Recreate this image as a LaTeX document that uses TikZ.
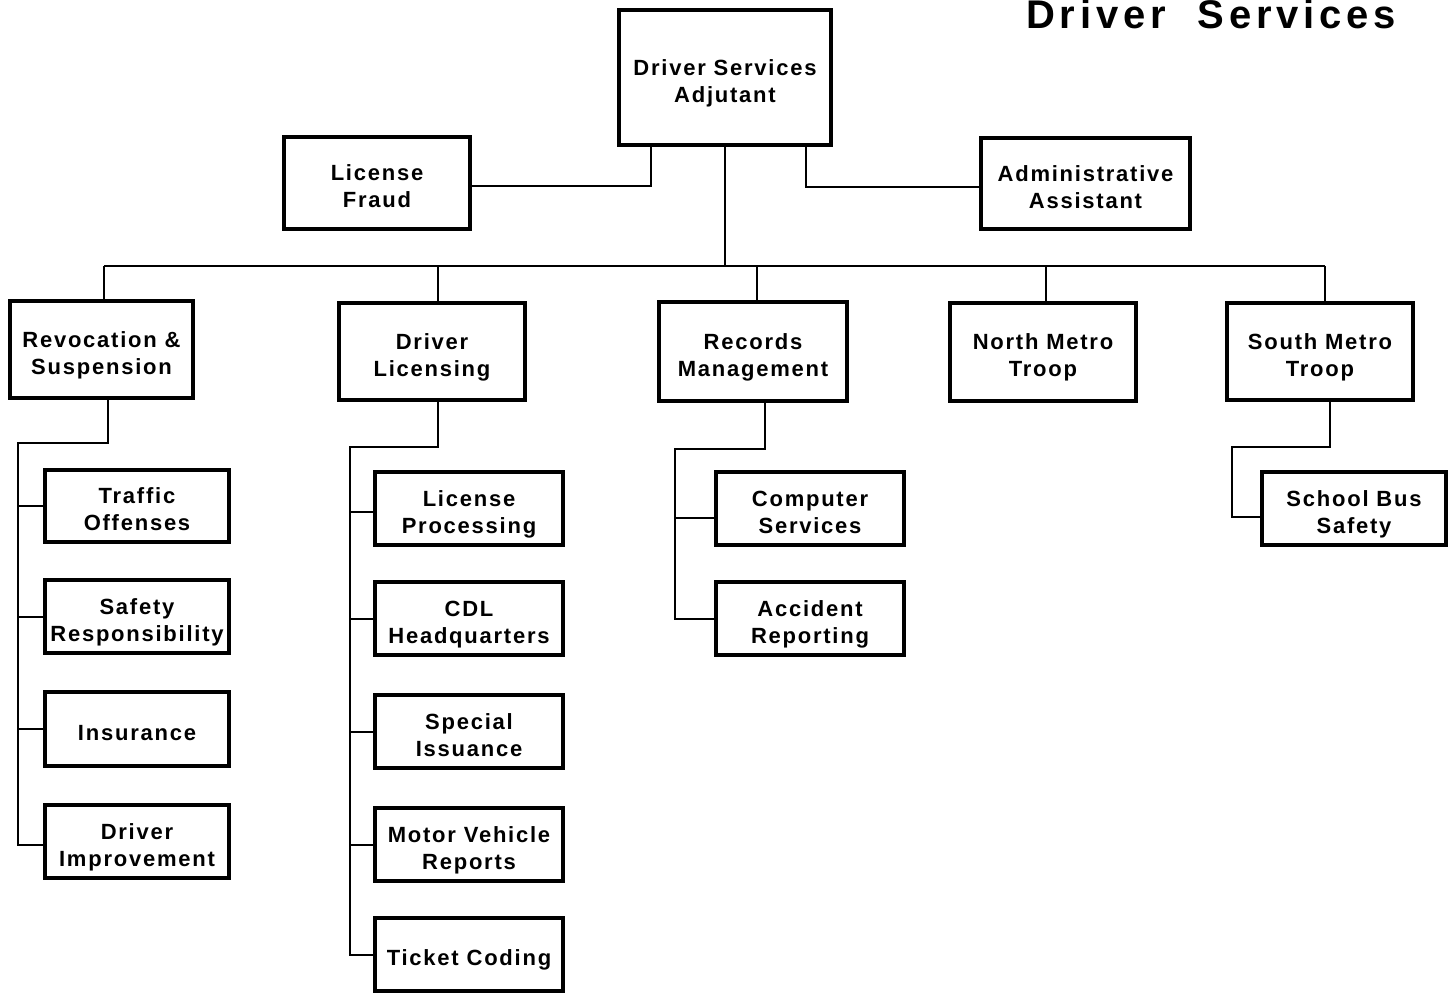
\documentclass[tikz,border=0pt]{standalone}
\usepackage{fontspec}
\newfontfamily\boxfont{Liberation Sans}[LetterSpace=8]
\newfontfamily\titlefont{Liberation Sans}[LetterSpace=12]
\begin{document}
\begin{tikzpicture}[x=0.5pt,y=-0.5pt,
  box/.style={draw,line width=2pt,align=center,inner sep=0pt,
    font=\boxfont\bfseries\fontsize{11pt}{13.5pt}\selectfont},
  conn/.style={line width=1pt}]
\useasboundingbox (0,0) rectangle (1450,995);
\newcommand\bx[6]{\node[box,minimum width={(#4-#2-4)*0.5pt},minimum height={(#5-#3-4)*0.5pt}] (#1) at ({(#2+#4)/2},{(#3+#5)/2}) {\raisebox{-3pt}[\height][\depth]{\begin{tabular}{@{}c@{}}#6\end{tabular}}};}
\node[font=\titlefont\bfseries\fontsize{20pt}{22pt}\selectfont,anchor=base,inner sep=0pt] (title) at (1211,29) {Driver\ \ Services};
\bx{top}{617}{8}{833}{147}{Driver Services\\Adjutant}
\bx{fraud}{282}{135}{472}{231}{License\\Fraud}
\bx{admin}{979}{136}{1192}{231}{Administrative\\Assistant}
\bx{rev}{8}{299}{195}{400}{Revocation \&\\Suspension}
\bx{lic}{337}{301}{527}{402}{Driver\\Licensing}
\bx{rec}{657}{300}{849}{403}{Records\\Management}
\bx{north}{948}{301}{1138}{403}{North Metro\\Troop}
\bx{south}{1225}{301}{1415}{402}{South Metro\\Troop}
\bx{traffic}{43}{468}{231}{544}{Traffic\\Offenses}
\bx{safety}{43}{578}{231}{655}{Safety\\Responsibility}
\bx{ins}{43}{690}{231}{768}{Insurance}
\bx{dimp}{43}{803}{231}{880}{Driver\\Improvement}
\bx{lproc}{373}{470}{565}{547}{License\\Processing}
\bx{cdl}{373}{580}{565}{657}{CDL\\Headquarters}
\bx{spec}{373}{693}{565}{770}{Special\\Issuance}
\bx{mvr}{373}{806}{565}{883}{Motor Vehicle\\Reports}
\bx{ticket}{373}{916}{565}{993}{Ticket Coding}
\bx{comp}{714}{470}{906}{547}{Computer\\Services}
\bx{acc}{714}{580}{906}{657}{Accident\\Reporting}
\bx{bus}{1260}{470}{1448}{547}{School Bus\\Safety}
% top connectors
\draw[conn] ([yshift=-1.5pt]fraud.east) -| (651,0 |- top.south);
\draw[conn] ([yshift=-1.5pt]admin.west) -| (806,0 |- top.south);
\coordinate (busL) at (104,266);
\coordinate (busR) at (1325,266);
\draw[conn] (top.south) -- (top.south |- busL);
\draw[conn] (busL) -- (busR);
\draw[conn] (busL) -- (104,0 |- rev.north);
\draw[conn] (438,266) -- (438,0 |- lic.north);
\draw[conn] (757,266) -- (757,0 |- rec.north);
\draw[conn] (1046,266) -- (1046,0 |- north.north);
\draw[conn] (busR) -- (1325,0 |- south.north);
% revocation subtree
\coordinate (rj) at (18,443);
\draw[conn] (108,0 |- rev.south) |- (rj) |- ([yshift=-1.5pt]dimp.west);
\foreach \c in {traffic,safety,ins} \draw[conn] (\c.west) -- (\c.west -| rj);
% licensing subtree
\coordinate (lj) at (350,447);
\draw[conn] (438,0 |- lic.south) |- (lj) |- (ticket.west);
\draw[conn] ([yshift=-1.5pt]lproc.west) -- ([yshift=-1.5pt]lproc.west -| lj);
\foreach \c in {cdl,spec,mvr} \draw[conn] (\c.west) -- (\c.west -| lj);
% records subtree
\coordinate (cj) at (675,449);
\draw[conn] (765,0 |- rec.south) |- (cj) |- (acc.west);
\draw[conn] ([yshift=-4.5pt]comp.west) -- ([yshift=-4.5pt]comp.west -| cj);
% south metro subtree
\coordinate (sj) at (1232,447);
\draw[conn] (1330,0 |- south.south) |- (sj) |- ([yshift=-4pt]bus.west);
\end{tikzpicture}
\end{document}
